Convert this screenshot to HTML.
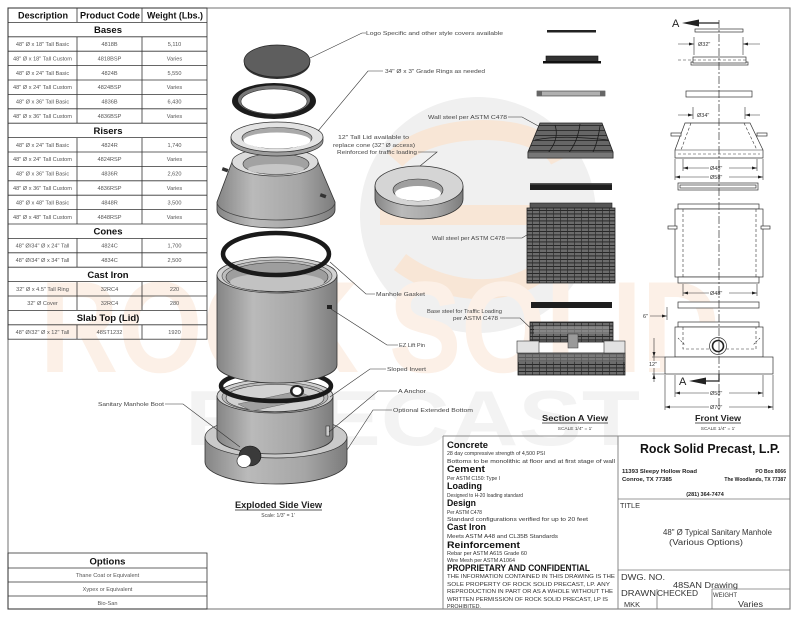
<!DOCTYPE html>
<html><head><meta charset="utf-8"><style>html,body{margin:0;padding:0;background:#fff}svg{display:block}text{font-family:"Liberation Sans",sans-serif}</style></head>
<body>
<svg width="800" height="618" viewBox="0 0 800 618" xmlns="http://www.w3.org/2000/svg">
<defs>
<linearGradient id="cyl" x1="0" x2="1" y1="0" y2="0">
<stop offset="0" stop-color="#858585"/><stop offset="0.3" stop-color="#bababa"/><stop offset="0.7" stop-color="#a6a6a6"/><stop offset="1" stop-color="#7c7c7c"/>
</linearGradient>
<pattern id="rg" width="7" height="3.5" patternUnits="userSpaceOnUse"><rect width="7" height="3.5" fill="#6c6c6c"/><path d="M0,0.4H7" stroke="#1c1c1c" stroke-width="0.9"/><path d="M0.4,0V3.5" stroke="#2a2a2a" stroke-width="0.7"/></pattern>
<pattern id="cg" width="12" height="5" patternUnits="userSpaceOnUse"><rect width="12" height="5" fill="#666"/><path d="M0,0.5H12" stroke="#222" stroke-width="0.8"/></pattern>
</defs>

<!-- watermark -->
<circle cx="478" cy="215" r="118" fill="#f0f0f0"/>
<path d="M395,160 C430,120 540,120 560,160 M380,215 H560 M400,262 C450,300 530,300 560,250" stroke="#f8e6d6" stroke-width="20" fill="none"/>
<text x="40" y="372" font-size="130" font-weight="bold" fill="#fcf0e7" textLength="680" lengthAdjust="spacingAndGlyphs">ROCK SOLID</text>
<text x="185" y="445" font-size="78" font-weight="bold" fill="#f3f3f3" textLength="455" lengthAdjust="spacingAndGlyphs">PRECAST</text>

<!-- border -->
<rect x="8" y="8" width="782" height="601" fill="none" stroke="#888" stroke-width="1.2"/>

<!-- product table -->
<g stroke="#333" stroke-width="0.8" fill="none">
<rect x="8" y="8" width="199" height="331.2"/>
<path d="M8,22.4H207M8,36.8H207M8,51.2H207M8,65.6H207M8,80H207M8,94.4H207M8,108.8H207M8,123.2H207M8,137.6H207M8,152H207M8,166.4H207M8,180.8H207M8,195.2H207M8,209.6H207M8,224H207M8,238.4H207M8,252.8H207M8,267.2H207M8,281.6H207M8,296H207M8,310.4H207M8,324.8H207"/>
<path d="M77,8V22.4M142,8V22.4M77,36.8V123.2M142,36.8V123.2M77,137.6V224M142,137.6V224M77,238.4V267.2M142,238.4V267.2M77,281.6V310.4M142,281.6V310.4M77,324.8V339.2M142,324.8V339.2"/>
</g>
<g font-weight="bold" fill="#111" font-size="9.5">
<text x="18" y="18.7" textLength="50" lengthAdjust="spacingAndGlyphs">Description</text>
<text x="80" y="18.7" textLength="60" lengthAdjust="spacingAndGlyphs">Product Code</text>
<text x="147" y="18.7" textLength="56" lengthAdjust="spacingAndGlyphs">Weight (Lbs.)</text>
</g>
<g font-weight="bold" fill="#111" font-size="9.5" text-anchor="middle">
<text x="108" y="33">Bases</text>
<text x="108" y="133.8">Risers</text>
<text x="108" y="234.6">Cones</text>
<text x="108" y="277.8">Cast Iron</text>
<text x="108" y="321">Slab Top (Lid)</text>
</g>
<g font-size="5.6" fill="#555" text-anchor="middle">
<text x="42.5" y="46">48" Ø x 18" Tall Basic</text><text x="109.5" y="46">4818B</text><text x="174.5" y="46">5,110</text>
<text x="42.5" y="60.4">48" Ø x 18" Tall Custom</text><text x="109.5" y="60.4">4818BSP</text><text x="174.5" y="60.4">Varies</text>
<text x="42.5" y="74.8">48" Ø x 24" Tall Basic</text><text x="109.5" y="74.8">4824B</text><text x="174.5" y="74.8">5,550</text>
<text x="42.5" y="89.2">48" Ø x 24" Tall Custom</text><text x="109.5" y="89.2">4824BSP</text><text x="174.5" y="89.2">Varies</text>
<text x="42.5" y="103.6">48" Ø x 36" Tall Basic</text><text x="109.5" y="103.6">4836B</text><text x="174.5" y="103.6">6,430</text>
<text x="42.5" y="118">48" Ø x 36" Tall Custom</text><text x="109.5" y="118">4836BSP</text><text x="174.5" y="118">Varies</text>
<text x="42.5" y="146.8">48" Ø x 24" Tall Basic</text><text x="109.5" y="146.8">4824R</text><text x="174.5" y="146.8">1,740</text>
<text x="42.5" y="161.2">48" Ø x 24" Tall Custom</text><text x="109.5" y="161.2">4824RSP</text><text x="174.5" y="161.2">Varies</text>
<text x="42.5" y="175.6">48" Ø x 36" Tall Basic</text><text x="109.5" y="175.6">4836R</text><text x="174.5" y="175.6">2,620</text>
<text x="42.5" y="190">48" Ø x 36" Tall Custom</text><text x="109.5" y="190">4836RSP</text><text x="174.5" y="190">Varies</text>
<text x="42.5" y="204.4">48" Ø x 48" Tall Basic</text><text x="109.5" y="204.4">4848R</text><text x="174.5" y="204.4">3,500</text>
<text x="42.5" y="218.8">48" Ø x 48" Tall Custom</text><text x="109.5" y="218.8">4848RSP</text><text x="174.5" y="218.8">Varies</text>
<text x="42.5" y="247.6">48" Ø/34" Ø x 24" Tall</text><text x="109.5" y="247.6">4824C</text><text x="174.5" y="247.6">1,700</text>
<text x="42.5" y="262">48" Ø/34" Ø x 34" Tall</text><text x="109.5" y="262">4834C</text><text x="174.5" y="262">2,500</text>
<text x="42.5" y="290.8">32" Ø x 4.5" Tall Ring</text><text x="109.5" y="290.8">32RC4</text><text x="174.5" y="290.8">220</text>
<text x="42.5" y="305.2">32" Ø Cover</text><text x="109.5" y="305.2">32RC4</text><text x="174.5" y="305.2">280</text>
<text x="42.5" y="334">48" Ø/32" Ø x 12" Tall</text><text x="109.5" y="334">48ST1232</text><text x="174.5" y="334">1920</text>
</g>

<!-- options table -->
<g stroke="#333" stroke-width="0.8" fill="none">
<rect x="8" y="553" width="199" height="56"/>
<path d="M8,568H207M8,582H207M8,596H207"/>
</g>
<text x="107.5" y="564.5" font-size="9.5" font-weight="bold" text-anchor="middle" fill="#111">Options</text>
<g font-size="5.6" fill="#555" text-anchor="middle">
<text x="107.5" y="577">Thane Coat or Equivalent</text>
<text x="107.5" y="591">Xypex or Equivalent</text>
<text x="107.5" y="605">Bio-San</text>
</g>

<!-- exploded side view: base -->
<path d="M205,437 V462 A71,22 0 0 0 347,462 V437 Z" fill="url(#cyl)" stroke="#333" stroke-width=".8"/>
<ellipse cx="276" cy="437" rx="71" ry="21" fill="#cacaca" stroke="#333" stroke-width=".7"/>
<path d="M217,396 V437 A58,17 0 0 0 333,437 V396 Z" fill="url(#cyl)" stroke="#333" stroke-width=".8"/>
<ellipse cx="275" cy="396" rx="58" ry="17" fill="#d0d0d0" stroke="#333" stroke-width=".7"/>
<ellipse cx="275" cy="397" rx="53" ry="15" fill="#b8b8b8" stroke="#444" stroke-width=".6"/>
<ellipse cx="275" cy="398" rx="49" ry="13.5" fill="#d2d2d2" stroke="#333" stroke-width=".6"/>
<path d="M238,404 L298,391 L313,398 L252,411 Z" fill="#a0a0a0" stroke="#666" stroke-width=".5"/>
<ellipse cx="297" cy="391" rx="7" ry="6" fill="#222"/>
<ellipse cx="297" cy="391" rx="4.5" ry="4" fill="#fff"/>
<rect x="326" y="426" width="3.5" height="10" fill="#ccc" stroke="#333" stroke-width=".6"/>
<ellipse cx="250" cy="456" rx="11" ry="10" fill="#3a3a3a" stroke="#111" stroke-width=".6"/>
<ellipse cx="244" cy="461" rx="7" ry="6.5" fill="#fff" stroke="#333" stroke-width=".7"/>
<!-- gasket 2 -->
<ellipse cx="276" cy="386" rx="55" ry="15" fill="none" stroke="#1a1a1a" stroke-width="4.5"/>
<!-- riser -->
<path d="M217,275 V365 A60,18 0 0 0 337,365 V275 Z" fill="url(#cyl)" stroke="#333" stroke-width=".8"/>
<ellipse cx="277" cy="275" rx="60" ry="18" fill="#d2d2d2" stroke="#333" stroke-width=".7"/>
<ellipse cx="277" cy="276" rx="55" ry="16" fill="#bdbdbd" stroke="#444" stroke-width=".6"/>
<ellipse cx="277" cy="277" rx="51" ry="14.5" fill="#9e9e9e" stroke="#333" stroke-width=".6"/>
<ellipse cx="277" cy="282" rx="47" ry="9" fill="#c2c2c2"/>
<rect x="327" y="305" width="5" height="4" fill="#222"/>
<!-- gasket 1 -->
<ellipse cx="276" cy="254" rx="53" ry="21" fill="none" stroke="#1a1a1a" stroke-width="4.5"/>
<!-- cone -->
<path d="M232,162 L217,202 V210 A59,18 0 0 0 335,210 V202 L318,162 Z" fill="url(#cyl)" stroke="#333" stroke-width=".8"/>
<path d="M217,202 A59,18 0 0 0 335,202" fill="none" stroke="#444" stroke-width=".7"/>
<ellipse cx="275" cy="162" rx="43" ry="14" fill="#dcdcdc" stroke="#333" stroke-width=".7"/>
<ellipse cx="276" cy="164" rx="33" ry="10.5" fill="#a2a2a2" stroke="#333" stroke-width=".6"/>
<ellipse cx="276" cy="169" rx="28" ry="5" fill="#c6c6c6"/>
<rect x="222" y="168" width="6" height="3.5" fill="#333" transform="rotate(20 225 170)"/>
<rect x="320" y="194" width="6" height="3.5" fill="#333" transform="rotate(20 323 196)"/>
<!-- grade ring -->
<path d="M231,137 V141 A46,15 0 0 0 323,141 V137 Z" fill="#9d9d9d" stroke="#333" stroke-width=".7"/>
<ellipse cx="277" cy="137" rx="46" ry="15" fill="#e3e3e3" stroke="#333" stroke-width=".7"/>
<ellipse cx="277" cy="138" rx="35" ry="10.5" fill="#a9a9a9" stroke="#333" stroke-width=".6"/>
<ellipse cx="277" cy="140.5" rx="33.5" ry="8" fill="#fff"/>
<!-- cast iron ring -->
<ellipse cx="274" cy="101" rx="42" ry="18" fill="#1c1c1c"/>
<ellipse cx="274" cy="100" rx="36" ry="14.5" fill="#777"/>
<ellipse cx="274" cy="101.5" rx="33" ry="12.5" fill="#fff" stroke="#333" stroke-width=".6"/>
<!-- cover -->
<ellipse cx="277" cy="63" rx="33" ry="16" fill="#333"/>
<ellipse cx="277" cy="61" rx="33" ry="16" fill="#5e5e5e" stroke="#222" stroke-width=".7"/>
<!-- lid -->
<path d="M375,186 V199 A44,20 0 0 0 463,199 V186 Z" fill="url(#cyl)" stroke="#333" stroke-width=".8"/>
<ellipse cx="419" cy="186" rx="44" ry="20" fill="#d5d5d5" stroke="#333" stroke-width=".7"/>
<ellipse cx="418" cy="190" rx="25" ry="11" fill="#9f9f9f" stroke="#333" stroke-width=".6"/>
<ellipse cx="418" cy="193.5" rx="23" ry="7.5" fill="#fff"/>

<!-- leaders -->
<g stroke="#333" stroke-width=".6" fill="none">
<path d="M310,58 L362,33 H366"/>
<path d="M318,131 L368,71 H383"/>
<path d="M508,117 H522 L560,138"/>
<path d="M418,152 H437 L420,166"/>
<path d="M506,238 H522 L548,222"/>
<path d="M330,262 L366,294 H375"/>
<path d="M500,318 H520 L540,337"/>
<path d="M331,309 L387,345 H398"/>
<path d="M330,397 L370,369 H386"/>
<path d="M329,432 L378,391 H397"/>
<path d="M347,450 L373,410 H392"/>
<path d="M165,404 H183 L240,447"/>
</g>
<g font-size="5.3" fill="#444">
<text x="366" y="35" textLength="137" lengthAdjust="spacingAndGlyphs">Logo Specific and other style covers available</text>
<text x="385" y="73" textLength="100" lengthAdjust="spacingAndGlyphs">34" Ø x 3" Grade Rings as needed</text>
<text x="428" y="119" textLength="79" lengthAdjust="spacingAndGlyphs">Wall steel per ASTM C478</text>
<text x="338" y="139" textLength="71" lengthAdjust="spacingAndGlyphs">12" Tall Lid available to</text>
<text x="333" y="147" textLength="82" lengthAdjust="spacingAndGlyphs">replace cone (32" Ø access)</text>
<text x="337" y="154" textLength="80" lengthAdjust="spacingAndGlyphs">Reinforced for traffic loading</text>
<text x="432" y="240" textLength="73" lengthAdjust="spacingAndGlyphs">Wall steel per ASTM C478</text>
<text x="376" y="296" textLength="49" lengthAdjust="spacingAndGlyphs">Manhole Gasket</text>
<text x="427" y="313" textLength="75" lengthAdjust="spacingAndGlyphs">Base steel for Traffic Loading</text>
<text x="453" y="320" textLength="45" lengthAdjust="spacingAndGlyphs">per ASTM C478</text>
<text x="399" y="347" textLength="26" lengthAdjust="spacingAndGlyphs">EZ Lift Pin</text>
<text x="387" y="371" textLength="39" lengthAdjust="spacingAndGlyphs">Sloped Invert</text>
<text x="398" y="393" textLength="28" lengthAdjust="spacingAndGlyphs">A Anchor</text>
<text x="393" y="412" textLength="80" lengthAdjust="spacingAndGlyphs">Optional Extended Bottom</text>
<text x="98" y="406" textLength="66" lengthAdjust="spacingAndGlyphs">Sanitary Manhole Boot</text>
</g>

<!-- view labels -->
<text x="235" y="508" font-size="9" font-weight="bold" fill="#222" textLength="87" lengthAdjust="spacingAndGlyphs">Exploded Side View</text>
<line x1="235" y1="510" x2="322" y2="510" stroke="#222" stroke-width=".8"/>
<text x="278" y="517" font-size="5" fill="#444" text-anchor="middle">Scale: 1/3" = 1'</text>
<text x="542" y="421" font-size="8.5" font-weight="bold" fill="#222" textLength="66" lengthAdjust="spacingAndGlyphs">Section A View</text>
<line x1="542" y1="423" x2="608" y2="423" stroke="#222" stroke-width=".8"/>
<text x="575" y="430" font-size="4.8" fill="#444" text-anchor="middle">SCALE 1/4" = 1'</text>
<text x="695" y="421" font-size="8.5" font-weight="bold" fill="#222" textLength="46" lengthAdjust="spacingAndGlyphs">Front View</text>
<line x1="695" y1="423" x2="741" y2="423" stroke="#222" stroke-width=".8"/>
<text x="718" y="430" font-size="4.8" fill="#444" text-anchor="middle">SCALE 1/4" = 1'</text>

<!-- section A view -->
<rect x="547" y="30" width="49" height="2.5" fill="#222"/>
<rect x="546" y="56" width="52" height="6" fill="#333" stroke="#111" stroke-width=".6"/>
<rect x="543" y="61" width="58" height="2.5" fill="#111"/>
<rect x="537" y="91" width="68" height="5" fill="#b0b0b0" stroke="#333" stroke-width=".6"/>
<rect x="537" y="91" width="5" height="5" fill="#666"/><rect x="600" y="91" width="5" height="5" fill="#666"/>
<path d="M540,123 H602 L613,152 V158 H528 V152 Z" fill="url(#cg)" stroke="#222" stroke-width=".8"/>
<path d="M555,125 C560,140 550,150 545,157 M580,124 C578,140 572,150 565,157 M600,126 C598,140 595,150 590,157 M535,140 C560,135 590,138 608,140" stroke="#1a1a1a" fill="none" stroke-width=".8"/>
<rect x="528" y="152" width="85" height="6" fill="#777" stroke="#222" stroke-width=".6"/>
<rect x="530" y="183" width="82" height="7" fill="#1e1e1e"/><rect x="530" y="183" width="82" height="1.5" fill="#555"/>
<rect x="530" y="203" width="82" height="5" fill="#555" stroke="#222" stroke-width=".6"/>
<rect x="527" y="208" width="88" height="75" fill="url(#rg)" stroke="#222" stroke-width=".8"/>
<rect x="531" y="302" width="81" height="6" fill="#1e1e1e"/>
<rect x="530" y="322" width="83" height="20" fill="url(#rg)" stroke="#222" stroke-width=".8"/>
<rect x="534" y="326" width="75" height="8" fill="#9a9a9a" opacity=".6"/>
<rect x="568" y="334" width="10" height="14" fill="#9a9a9a" stroke="#333" stroke-width=".5"/>
<rect x="518" y="353" width="107" height="22" fill="url(#rg)" stroke="#222" stroke-width=".8"/>
<rect x="518" y="353" width="107" height="9" fill="#888" opacity=".5"/>
<rect x="517" y="341" width="22" height="12" fill="#e2e2e2" stroke="#333" stroke-width=".6"/>
<rect x="604" y="341" width="21" height="12" fill="#e2e2e2" stroke="#333" stroke-width=".6"/>

<!-- front view -->
<g stroke="#333" stroke-width=".7" fill="#fff">
<rect x="695" y="29" width="48" height="3"/>
<rect x="691" y="62" width="57" height="3"/>
<rect x="693" y="57" width="53" height="6"/>
<rect x="686" y="91" width="66" height="6"/>
<path d="M685,123 H750 L763,150 V158 H675 V150 Z"/>
<rect x="678" y="183" width="80" height="7"/>
<rect x="680" y="185" width="76" height="3"/>
<rect x="678" y="204" width="81" height="5"/>
<rect x="675" y="209" width="88" height="68"/>
<rect x="678" y="277" width="81" height="6"/>
<rect x="678" y="302" width="81" height="6"/>
<rect x="678" y="322" width="81" height="5"/>
<rect x="675" y="327" width="88" height="30"/>
<rect x="665" y="357" width="108" height="17"/>
<rect x="671" y="133" width="10" height="3"/><rect x="757" y="133" width="10" height="3"/>
<rect x="668" y="226" width="9" height="3"/><rect x="761" y="226" width="9" height="3"/>
</g>
<g stroke="#333" stroke-width=".6" fill="none">
<path d="M675,150 H763"/>
<path d="M678,60 H746" stroke-dasharray="3,2"/>
<path d="M678,154 H760 M691,123 L681,150 M744,123 L757,150" stroke-dasharray="3,2"/>
<path d="M683,209 V277 M756,209 V277" stroke-dasharray="3,2"/>
<path d="M683,327 V349 H756 V327" stroke-dasharray="3,2"/>
<path d="M678,338 L685,345 M760,338 L753,345" stroke-dasharray="2,1.5"/>
<!-- dim lines -->
<path d="M694,37 V55 M743,37 V55 M678,44 H694 M743,44 H760"/>
<path d="M693,107 V119 M745,107 V119 M678,115 H693 M745,115 H760"/>
<path d="M683,159 V171 M757,159 V171 M683,168 H757"/>
<path d="M675,159 V180 M763,159 V180 M675,177 H763"/>
<path d="M683,284 V296 M757,284 V296 M683,293 H757"/>
<path d="M650,316 H667 M667,307 V320"/>
<path d="M652,357 H665 M652,374 H665 M654,338 V382"/>
<path d="M675,375 V397 M763,375 V397 M665,375 V410 M773,375 V410 M675,393 H763 M665,407 H773"/>
</g>
<circle cx="718" cy="346" r="8.5" fill="#fff" stroke="#333" stroke-width=".7"/>
<circle cx="718" cy="346" r="5.5" fill="none" stroke="#222" stroke-width="1.6"/>
<g fill="#222">
<polygon points="694,44 689,42.5 689,45.5"/><polygon points="743,44 748,42.5 748,45.5"/>
<polygon points="693,115 688,113.5 688,116.5"/><polygon points="745,115 750,113.5 750,116.5"/>
<polygon points="683,168 688,166.5 688,169.5"/><polygon points="757,168 752,166.5 752,169.5"/>
<polygon points="675,177 680,175.5 680,178.5"/><polygon points="763,177 758,175.5 758,178.5"/>
<polygon points="683,293 688,291.5 688,294.5"/><polygon points="757,293 752,291.5 752,294.5"/>
<polygon points="667,316 662,314.5 662,317.5"/>
<polygon points="654,357 652.5,352 655.5,352"/><polygon points="654,374 652.5,379 655.5,379"/>
<polygon points="675,393 680,391.5 680,394.5"/><polygon points="763,393 758,391.5 758,394.5"/>
<polygon points="665,407 670,405.5 670,408.5"/><polygon points="773,407 768,405.5 768,408.5"/>
<polygon points="682,23 699,19.5 699,26.5"/>
<polygon points="689,381 706,377.5 706,384.5"/>
</g>
<path d="M699,23 H719 M706,381 H719 V374" stroke="#222" stroke-width="1.2" fill="none"/>
<g fill="#fff"><rect x="709" y="164" width="20" height="7"/><rect x="709" y="173" width="20" height="7"/><rect x="709" y="289" width="20" height="7"/><rect x="709" y="389" width="20" height="7"/><rect x="709" y="403" width="20" height="7"/><rect x="648" y="361" width="12" height="7"/></g>
<g font-size="5.5" fill="#333">
<text x="698" y="46">Ø32"</text>
<text x="697" y="117">Ø34"</text>
<text x="710" y="170">Ø48"</text>
<text x="710" y="179">Ø58"</text>
<text x="710" y="295">Ø48"</text>
<text x="710" y="395">Ø58"</text>
<text x="710" y="409">Ø70"</text>
<text x="643" y="318">6"</text>
<text x="649" y="366">12"</text>
</g>
<text x="672" y="27" font-size="11" fill="#222">A</text>
<text x="679" y="385" font-size="11" fill="#222">A</text>
<path d="M719,20 V412" stroke="#333" stroke-width=".7" stroke-dasharray="8,2,2,2" fill="none"/>

<!-- notes / title block frame -->
<g stroke="#888" stroke-width="1" fill="none">
<path d="M443,436 H790 M443,436 V609 M618,436 V609"/>
</g>
<g stroke="#777" stroke-width=".8" fill="none">
<path d="M618,499 H790 M618,570 H790 M712,589 H790 M657,589 V609 M712,589 V609"/>
</g>

<!-- notes -->
<g font-weight="bold" font-size="9.5" fill="#111">
<text x="447" y="448" textLength="41" lengthAdjust="spacingAndGlyphs">Concrete</text>
<text x="447" y="472" textLength="38" lengthAdjust="spacingAndGlyphs">Cement</text>
<text x="447" y="489" textLength="35" lengthAdjust="spacingAndGlyphs">Loading</text>
<text x="447" y="506" textLength="29" lengthAdjust="spacingAndGlyphs">Design</text>
<text x="447" y="530" textLength="39" lengthAdjust="spacingAndGlyphs">Cast Iron</text>
<text x="447" y="548" textLength="73" lengthAdjust="spacingAndGlyphs">Reinforcement</text>
<text x="447" y="571" textLength="143" lengthAdjust="spacingAndGlyphs">PROPRIETARY AND CONFIDENTIAL</text>
</g>
<g font-size="5.3" fill="#333">
<text x="447" y="455" textLength="98" lengthAdjust="spacingAndGlyphs">28 day compressive strength of 4,500 PSI</text>
<text x="447" y="463" textLength="168" lengthAdjust="spacingAndGlyphs">Bottoms to be monolithic at floor and at first stage of wall</text>
<text x="447" y="480" textLength="53" lengthAdjust="spacingAndGlyphs">Per ASTM C150: Type I</text>
<text x="447" y="497" textLength="76" lengthAdjust="spacingAndGlyphs">Designed to H-20 loading standard</text>
<text x="447" y="514" textLength="35" lengthAdjust="spacingAndGlyphs">Per ASTM C478</text>
<text x="447" y="521" textLength="141" lengthAdjust="spacingAndGlyphs">Standard configurations verified for up to 20 feet</text>
<text x="447" y="538" textLength="111" lengthAdjust="spacingAndGlyphs">Meets ASTM A48 and CL35B Standards</text>
<text x="447" y="555" textLength="80" lengthAdjust="spacingAndGlyphs">Rebar per ASTM A615 Grade 60</text>
<text x="447" y="562" textLength="68" lengthAdjust="spacingAndGlyphs">Wire Mesh per ASTM A1064</text>
<text x="447" y="578" textLength="168" lengthAdjust="spacingAndGlyphs">THE INFORMATION CONTAINED IN THIS DRAWING IS THE</text>
<text x="447" y="586" textLength="163" lengthAdjust="spacingAndGlyphs">SOLE PROPERTY OF ROCK SOLID PRECAST, LP.  ANY</text>
<text x="447" y="593" textLength="166" lengthAdjust="spacingAndGlyphs">REPRODUCTION IN PART OR AS A WHOLE WITHOUT THE</text>
<text x="447" y="601" textLength="161" lengthAdjust="spacingAndGlyphs">WRITTEN PERMISSION OF ROCK SOLID PRECAST, LP IS</text>
<text x="447" y="608" textLength="34" lengthAdjust="spacingAndGlyphs">PROHIBITED.</text>
</g>

<!-- title block -->
<text x="640" y="453" font-size="12.5" font-weight="bold" fill="#111" textLength="140" lengthAdjust="spacingAndGlyphs">Rock Solid Precast, L.P.</text>
<g font-size="5" font-weight="bold" fill="#222">
<text x="622" y="473" textLength="75" lengthAdjust="spacingAndGlyphs">11393 Sleepy Hollow Road</text>
<text x="622" y="481" textLength="50" lengthAdjust="spacingAndGlyphs">Conroe, TX 77385</text>
<text x="786" y="473" text-anchor="end">PO Box 8066</text>
<text x="786" y="481" text-anchor="end">The Woodlands, TX 77387</text>
<text x="705" y="496" text-anchor="middle" font-size="5.5">(281) 364-7474</text>
</g>
<text x="620" y="508" font-size="7.5" fill="#333" textLength="20" lengthAdjust="spacingAndGlyphs">TITLE</text>
<text x="663" y="535" font-size="8" fill="#333" textLength="109" lengthAdjust="spacingAndGlyphs">48" Ø Typical Sanitary Manhole</text>
<text x="669" y="545" font-size="8" fill="#333" textLength="74" lengthAdjust="spacingAndGlyphs">(Various Options)</text>
<text x="621" y="580" font-size="8.5" fill="#333" textLength="44" lengthAdjust="spacingAndGlyphs">DWG.  NO.</text>
<text x="673" y="588" font-size="8.5" fill="#333" textLength="65" lengthAdjust="spacingAndGlyphs">48SAN Drawing</text>
<text x="621" y="596" font-size="8" fill="#333" textLength="35" lengthAdjust="spacingAndGlyphs">DRAWN</text>
<text x="657" y="596" font-size="8" fill="#333" textLength="41" lengthAdjust="spacingAndGlyphs">CHECKED</text>
<text x="713" y="597" font-size="6.5" fill="#333" textLength="24" lengthAdjust="spacingAndGlyphs">WEIGHT</text>
<text x="624" y="607" font-size="7.5" fill="#333" textLength="16" lengthAdjust="spacingAndGlyphs">MKK</text>
<text x="738" y="607" font-size="8" fill="#333" textLength="25" lengthAdjust="spacingAndGlyphs">Varies</text>
</svg>
</body></html>
